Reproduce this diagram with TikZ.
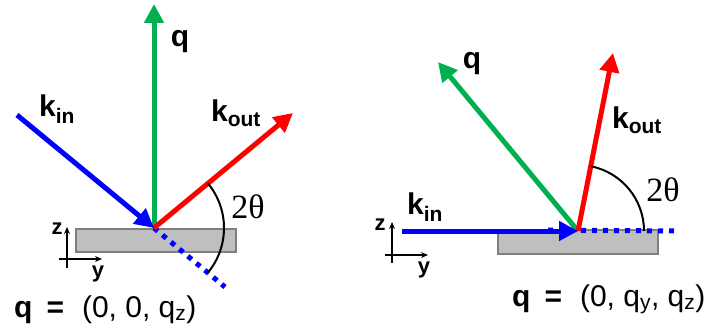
\documentclass[tikz,border=0pt]{standalone}
\usepackage{fontspec}
\setmainfont{Liberation Sans}
\newfontfamily\thetafont{Liberation Serif}
\usetikzlibrary{arrows.meta}

\definecolor{kinblue}{RGB}{0,0,255}
\definecolor{qgreen}{RGB}{0,176,80}
\definecolor{koutred}{RGB}{255,0,0}
\definecolor{slabgray}{RGB}{191,191,191}
\definecolor{slabedge}{RGB}{127,127,127}

\begin{document}
\begin{tikzpicture}[x=1pt,y=1pt,
  vec/.style={line width=5pt,-{Triangle[length=19pt,width=19pt]}},
  beamdots/.style={kinblue,line width=5pt,dash pattern=on 5pt off 6pt},
  slab/.style={fill=slabgray,draw=slabedge,line width=1.2pt},
  axis/.style={line width=1.5pt,-{Stealth[length=7pt,width=6pt]}},
  axlab/.style={font=\fontsize{22}{24}\selectfont\bfseries,inner sep=0pt},
  veclab/.style={font=\fontsize{30}{34}\selectfont\bfseries,inner sep=0pt},
  anglab/.style={font=\fontsize{34}{36}\selectfont\thetafont,inner sep=0pt},
  eqlab/.style={font=\fontsize{30}{34}\selectfont,inner sep=0pt,anchor=base west},
  anglearc/.style={line width=2pt}]
  \useasboundingbox (0,0) rectangle (715,327);

  % ---------- left: specular reflection ----------
  \coordinate (OA) at (154,99);    % reflection point
  \coordinate (qA) at (154,323);
  \coordinate (kinA) at (17,212);
  \coordinate (koutA) at (293,214);
  \coordinate (dotA) at (225,40);

  \draw[slab] (76,98) rectangle (236,75);
  \draw[beamdots] (OA) -- (dotA);
  \draw[vec,qgreen] (OA) -- (qA);
  \draw[vec,koutred] (OA) -- (koutA);
  \draw[vec,kinblue] (kinA) -- (OA);

  % 2theta between k_out and the straight-through beam
  \draw[anglearc] (OA) ++(39.6:70) arc[start angle=39.6,end angle=-40,radius=70];

  \node[veclab] (qlabA) at (180,285) {q};
  \node[veclab] (kinlabA) at (57,218) {k\textsubscript{in}};
  \node[veclab] (koutlabA) at (236,214) {k\textsubscript{out}};
  \node[anglab] (thetaA) at (248,120) {2θ};

  % lab axes
  \coordinate (zlowA) at (67,59);
  \coordinate (ztopA) at (67,100);
  \coordinate (ylowA) at (59,68);
  \coordinate (ytopA) at (102,68);
  \draw[axis] (zlowA) -- (ztopA);
  \draw[axis] (ylowA) -- (ytopA);
  \node[axlab] (zA) at (57,98) {z};
  \node[axlab] (yA) at (98,53) {y};

  \node[eqlab] (eqA) at (14,10) {\textbf{q}\hspace{14pt}\textbf{=}\hspace{18pt}(0, 0, q\textsubscript{z})};

  % ---------- right: grazing incidence ----------
  \coordinate (OB) at (578,96);    % reflection point
  \coordinate (qB) at (438,265);
  \coordinate (kinB) at (402,96);
  \coordinate (koutB) at (613,274);
  \coordinate (dotB) at (678,96);
  \coordinate (dotBstart) at (548,97);

  \draw[slab] (498,97) rectangle (658,73);
  \draw[beamdots] (dotBstart) -- (dotB);
  \draw[vec,qgreen] (OB) -- (qB);
  \draw[vec,koutred] (OB) -- (koutB);
  \draw[vec,kinblue] (kinB) -- (OB);

  \draw[anglearc] (OB) ++(78.8:66) arc[start angle=78.8,end angle=0,radius=66];

  \node[veclab] (qlabB) at (472,263) {q};
  \node[veclab] (kinlabB) at (425,120) {k\textsubscript{in}};
  \node[veclab] (koutlabB) at (637,207) {k\textsubscript{out}};
  \node[anglab] (thetaB) at (663,137) {2θ};

  \coordinate (zlowB) at (392,64);
  \coordinate (ztopB) at (392,105);
  \coordinate (ylowB) at (385,72);
  \coordinate (ytopB) at (428,72);
  \draw[axis] (zlowB) -- (ztopB);
  \draw[axis] (ylowB) -- (ytopB);
  \node[axlab] (zB) at (380,102) {z};
  \node[axlab] (yB) at (424,57) {y};

  \node[eqlab] (eqB) at (512,21) {\textbf{q}\hspace{14pt}\textbf{=}\hspace{18pt}(0, q\textsubscript{y}, q\textsubscript{z})};
\end{tikzpicture}
\end{document}
